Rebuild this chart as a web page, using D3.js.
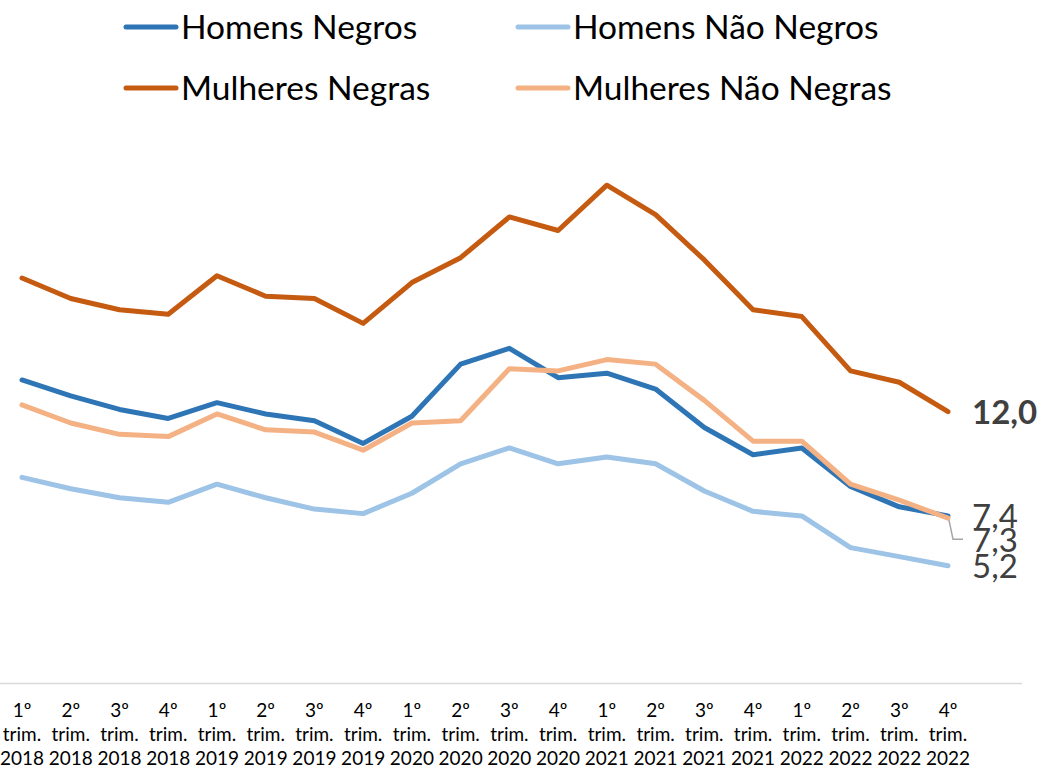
<!DOCTYPE html>
<html><head><meta charset="utf-8">
<script src="https://cdn.jsdelivr.net/npm/d3@7"></script>
<style>body{margin:0;background:#fff}svg{display:block}</style>
</head><body>
<svg id="c" width="1041" height="772"></svg>
<script>
const quarters = ["1º","2º","3º","4º","1º","2º","3º","4º","1º","2º","3º","4º","1º","2º","3º","4º","1º","2º","3º","4º"];
const years = ["2018","2018","2018","2018","2019","2019","2019","2019","2020","2020","2020","2020","2021","2021","2021","2021","2022","2022","2022","2022"];
const seriesNames = ["Homens Negros","Homens Não Negros","Mulheres Negras","Mulheres Não Negras"];
const homensNegros = [13.4,12.7,12.1,11.7,12.4,11.9,11.6,10.6,11.8,14.1,14.8,13.5,13.7,13.0,11.3,10.1,10.4,8.7,7.8,7.4];
const homensNaoNegros = [9.1,8.6,8.2,8.0,8.8,8.2,7.7,7.5,8.4,9.7,10.4,9.7,10.0,9.7,8.5,7.6,7.4,6.0,5.6,5.2];
const mulheresNegras = [17.9,17.0,16.5,16.3,18.0,17.1,17.0,15.9,17.7,18.8,20.6,20.0,22.0,20.7,18.7,16.5,16.2,13.8,13.3,12.0];
const mulheresNaoNegras = [12.3,11.5,11.0,10.9,11.9,11.2,11.1,10.3,11.5,11.6,13.9,13.8,14.3,14.1,12.5,10.7,10.7,8.8,8.1,7.3];
const colors = ["#2E75B6","#9DC3E6","#C55A11","#F4B183"];

const allSeries = [homensNegros, homensNaoNegros, mulheresNegras, mulheresNaoNegras];
const labels = quarters.map((q,i)=>i);
const font = "Lato, 'Open Sans', sans-serif";

const svg = d3.select("#c");
const x = d3.scalePoint().domain(labels).range([22, 948]);
const y = d3.scaleLinear().domain([0, 1]).range([683.5, 683.5-22.65]);

// baseline
svg.append("line").attr("x1",0).attr("x2",1022).attr("y1",683.5).attr("y2",683.5)
  .attr("stroke","#d9d9d9").attr("stroke-width",1.5);

// x axis labels
const xg = svg.append("g").attr("font-family",font).attr("font-size",19).attr("fill","#000");
labels.forEach(i=>{
  const t = xg.append("text").attr("x",x(i)).attr("text-anchor","middle");
  t.append("tspan").attr("x",x(i)).attr("y",717).text(quarters[i]);
  t.append("tspan").attr("x",x(i)).attr("y",741).text("trim.");
  t.append("tspan").attr("x",x(i)).attr("y",765).text(years[i]);
});

// lines
const line = d3.line().x((d,i)=>x(i)).y(d=>y(d));
allSeries.forEach((s,k)=>{
  svg.append("path").datum(s).attr("d",line).attr("fill","none")
    .attr("stroke",colors[k]).attr("stroke-width",5)
    .attr("stroke-linejoin","round").attr("stroke-linecap","round");
});

// end labels
const last = labels.length-1;
const fmt = v => d3.format(".1f")(v).replace(".",",");
const lg = svg.append("g").attr("font-family",font).attr("font-size",33).attr("fill","#404040");
lg.append("text").attr("x",972).attr("y",y(mulheresNegras[last])+12).attr("font-weight","bold").text(fmt(mulheresNegras[last]));
lg.append("text").attr("x",972).attr("y",y(homensNegros[last])+12).text(fmt(homensNegros[last]));
lg.append("text").attr("x",972).attr("y",y(homensNegros[last])+36).text(fmt(mulheresNaoNegras[last]));
lg.append("text").attr("x",972).attr("y",y(homensNaoNegros[last])+12).text(fmt(homensNaoNegros[last]));
// leader line
const ly = y(mulheresNaoNegras[last]);
svg.append("path").attr("d",`M${x(last)+1},${ly+2} L${x(last)+5},${ly+21} L${x(last)+15},${ly+21}`)
  .attr("fill","none").attr("stroke","#a6a6a6").attr("stroke-width",1.5);

// legend
const legPos = [[124,27],[516,27],[124,88],[516,88]];
const leg = svg.append("g").attr("font-family",font).attr("font-size",33.5).attr("fill","#000");
seriesNames.forEach((n,k)=>{
  const [lx,ly2] = legPos[k];
  leg.append("line").attr("x1",lx+2).attr("x2",lx+52).attr("y1",ly2).attr("y2",ly2)
    .attr("stroke",colors[k]).attr("stroke-width",5).attr("stroke-linecap","round");
  leg.append("text").attr("x",lx+57).attr("y",ly2+12).text(n);
});
</script>
</body></html>
